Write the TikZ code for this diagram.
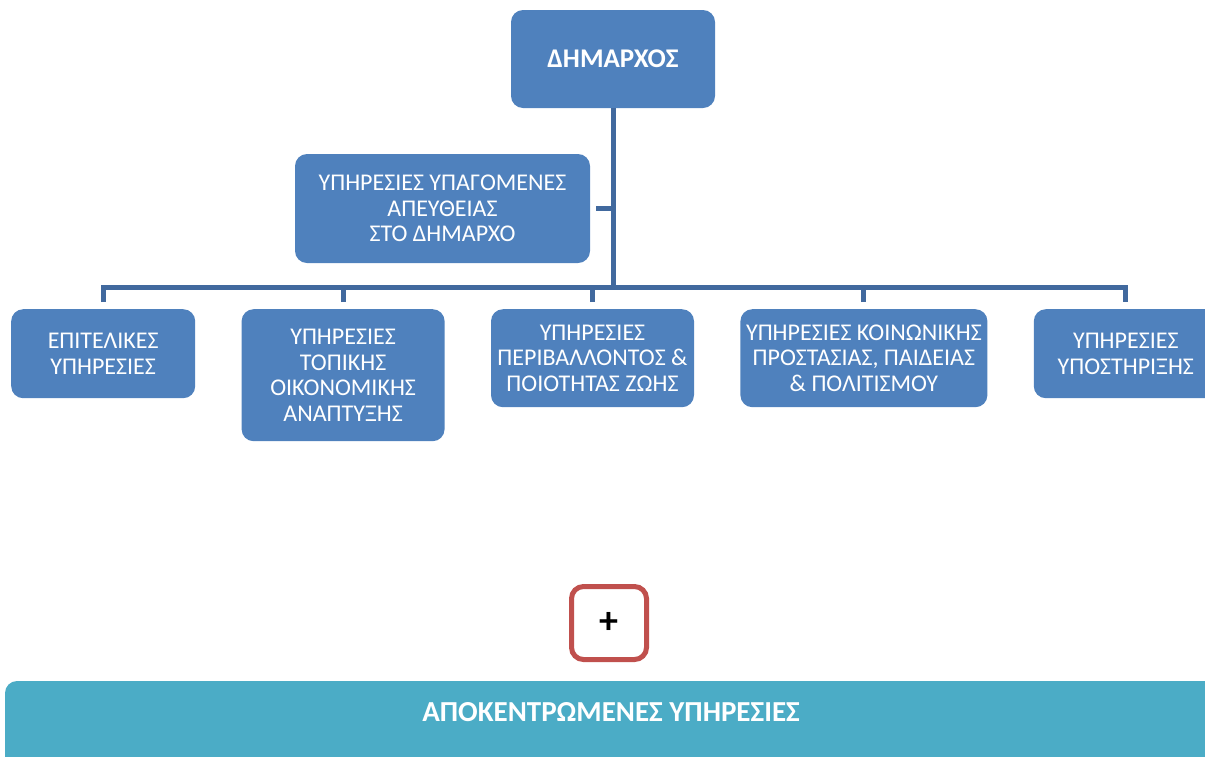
\documentclass[tikz,border=0pt]{standalone}
\usepackage{fontspec}
\setmainfont{Carlito}
\usetikzlibrary{positioning}
\definecolor{unitblue}{HTML}{4F81BD}
\definecolor{linkblue}{HTML}{41699E}
\definecolor{plusred}{HTML}{C0504D}
\definecolor{decteal}{HTML}{4BACC6}
\tikzset{
  unit/.style={rectangle,rounded corners=12pt,fill=unitblue,text=white,align=center,
    inner sep=0pt,font=\fontsize{24}{25.5}\selectfont},
  head/.style={unit,font=\fontsize{27}{28}\selectfont\bfseries},
  bus/.style={draw=linkblue,line width=5pt}
}

\begin{document}
\begin{tikzpicture}[x=1pt,y=-1pt,node distance=46pt]
   \useasboundingbox (0,0) rectangle (1205,756);
   \node[head,minimum width=204pt,minimum height=98pt] (dim) at (613,59) {ΔΗΜΑΡΧΟΣ};
   \node[unit,minimum width=295pt,minimum height=109pt] (asst) at (442.5,208.5)
      {ΥΠΗΡΕΣΙΕΣ ΥΠΑΓΟΜΕΝΕΣ\\ΑΠΕΥΘΕΙΑΣ\\ΣΤΟ ΔΗΜΑΡΧΟ};
   \node[unit,anchor=north west,minimum width=184pt,minimum height=89pt] (epit) at (11,309)
      {ΕΠΙΤΕΛΙΚΕΣ\\ΥΠΗΡΕΣΙΕΣ};
   \node[unit,minimum width=203pt,minimum height=132pt] (topik) [below right=0pt and 46pt of epit.north east]
      {ΥΠΗΡΕΣΙΕΣ\\ΤΟΠΙΚΗΣ\\ΟΙΚΟΝΟΜΙΚΗΣ\\ΑΝΑΠΤΥΞΗΣ};
   \node[unit,minimum width=203pt,minimum height=98pt] (perib) [below right=0pt and 46pt of topik.north east]
      {ΥΠΗΡΕΣΙΕΣ\\ΠΕΡΙΒΑΛΛΟΝΤΟΣ \&\\ΠΟΙΟΤΗΤΑΣ ΖΩΗΣ};
   \node[unit,minimum width=247pt,minimum height=98pt] (koin) [below right=0pt and 46pt of perib.north east]
      {ΥΠΗΡΕΣΙΕΣ ΚΟΙΝΩΝΙΚΗΣ\\ΠΡΟΣΤΑΣΙΑΣ, ΠΑΙΔΕΙΑΣ\\\& ΠΟΛΙΤΙΣΜΟΥ};
   \node[unit,minimum width=184pt,minimum height=89pt] (ypost) [below right=0pt and 46pt of koin.north east]
      {ΥΠΗΡΕΣΙΕΣ\\ΥΠΟΣΤΗΡΙΞΗΣ};
   \coordinate (busy) at (613,287);
   \draw[bus] (dim.south) -- (busy);
   \draw[bus] ([xshift=6pt]asst.east) -- (asst.east -| dim.south);
   \draw[bus] ([yshift=7pt]epit.north) |- (busy) -| ([yshift=7pt]ypost.north);
   \draw[bus] ([yshift=7pt]topik.north) -- (topik.north |- busy);
   \draw[bus] ([yshift=7pt]perib.north) -- (perib.north |- busy);
   \draw[bus] ([yshift=7pt]koin.north) -- (koin.north |- busy);
   \node[draw=plusred,line width=5pt,rounded corners=12pt,minimum width=75pt,minimum height=73pt,
      font=\fontsize{38}{38}\selectfont\bfseries] (plus) at (609,623) {\raisebox{-4pt}{+}};
   \node[fill=decteal,rounded corners=12pt,anchor=base,text=white,font=\fontsize{29}{30}\selectfont\bfseries,
      minimum width=1212pt,text height=19pt,text depth=60pt,inner ysep=21pt] (apok) at (611,721)
      {ΑΠΟΚΕΝΤΡΩΜΕΝΕΣ ΥΠΗΡΕΣΙΕΣ};
\end{tikzpicture}
\end{document}
